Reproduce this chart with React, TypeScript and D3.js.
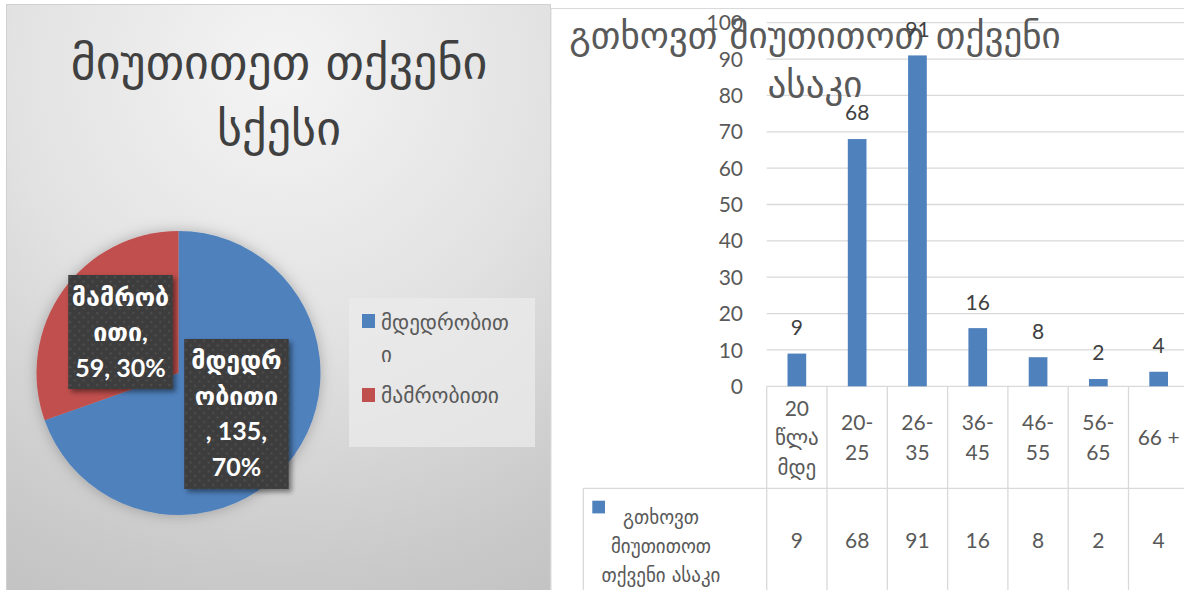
import React from "react";
import * as d3 from "d3";

// ---------- data ----------
const pieTitleLines = ["მიუთითეთ თქვენი", "სქესი"];
const genderNames = ["მდედრობითი", "მამრობითი"];
const genderValues = [135, 59];
const genderColors = ["#4f81bd", "#c0504d"];

const barTitleLines = ["გთხოვთ მიუთითოთ თქვენი", "ასაკი"];
const seriesName = ["გთხოვთ", "მიუთითოთ", "თქვენი ასაკი"];
const ageCategories = ["20 წლა მდე", "20-25", "26-35", "36-45", "46-55", "56-65", "66 +"];
const ageCategoryLines = [["20", "წლა", "მდე"], ["20-", "25"], ["26-", "35"], ["36-", "45"], ["46-", "55"], ["56-", "65"], ["66 +"]];
const ageValues = [9, 68, 91, 16, 8, 2, 4];
const yTicks = [0, 10, 20, 30, 40, 50, 60, 70, 80, 90, 100];

const FONT = "Lato, 'DejaVu Sans', sans-serif";
const GEO = "'DejaVu Sans', sans-serif";

export default function App() {
  // ---------- pie ----------
  const cx = 178.5, cy = 373, r = 142;
  const total = d3.sum(genderValues);
  const pie = d3.pie<number>().sort(null).value((d) => d);
  const arcs = pie(genderValues);
  const arcGen = d3.arc<d3.PieArcDatum<number>>().innerRadius(0).outerRadius(r);
  const pct = genderValues.map((v) => Math.round((v / total) * 100));
  const labelLines = [
    [genderNames[0].slice(0, 5), genderNames[0].slice(5), `, ${genderValues[0]},`, `${pct[0]}%`],
    [genderNames[1].slice(0, 6), genderNames[1].slice(6) + ",", `${genderValues[1]}, ${pct[1]}%`],
  ];

  // ---------- bars ----------
  const plotLeft = 766.7, step = 60.3;
  const plotRight = plotLeft + step * ageCategories.length;
  const xCell = d3.scaleBand<string>().domain(ageCategories).range([plotLeft, plotRight]).padding(0);
  const xBar = d3.scaleBand<string>().domain(ageCategories).range([plotLeft, plotRight]).paddingInner(0.69).paddingOuter(0.345);
  const y = d3.scaleLinear().domain([0, 100]).range([386.3, 22.7]);
  const tableMid = 488.3;

  return (
    <svg width={1184} height={590} style={{ position: "absolute", left: 0, top: 0, display: "block" }}>
      <defs>
        <radialGradient id="bg" gradientUnits="userSpaceOnUse" cx={280} cy={70} r={600}>
          <stop offset="0" stopColor="#f4f4f4" />
          <stop offset="0.45" stopColor="#e2e2e2" />
          <stop offset="0.85" stopColor="#c9c9c9" />
          <stop offset="1" stopColor="#c2c2c2" />
        </radialGradient>
        <pattern id="dots" width="9" height="9" patternUnits="userSpaceOnUse">
          <rect width="9" height="9" fill="#3d3d3d" />
          <circle cx="2" cy="2" r="1.2" fill="#4c4c4c" />
          <circle cx="6.5" cy="6.5" r="1.2" fill="#4c4c4c" />
        </pattern>
        <filter id="pieShadow" x="-20%" y="-20%" width="140%" height="140%">
          <feDropShadow dx="0" dy="0" stdDeviation="7" floodColor="#000" floodOpacity="0.25" />
        </filter>
        <filter id="boxShadow" x="-20%" y="-20%" width="150%" height="150%">
          <feDropShadow dx="3" dy="3" stdDeviation="2.5" floodColor="#000" floodOpacity="0.45" />
        </filter>
      </defs>

      {/* left panel */}
      <rect x={6.5} y={4.5} width={544} height={600} fill="url(#bg)" stroke="#d0d0d0" strokeWidth={1} />
      <text fontFamily={GEO} fontSize={48} fill="#404040" textAnchor="middle">
        {pieTitleLines.map((t, i) => (
          <tspan key={i} x={279} y={78.6 + i * 66}>{t}</tspan>
        ))}
      </text>
      <g transform={`translate(${cx},${cy})`}>
        <g filter="url(#pieShadow)">
          {arcs.map((a, i) => (
            <path key={i} d={arcGen(a) || ""} fill={genderColors[i]} />
          ))}
        </g>
        {arcs.map((a, i) => {
          const [lx, ly] = arcGen.centroid(a);
          const lines = labelLines[i];
          const w = 104.5, h = lines.length * 36 + 6;
          return (
            <g key={i} transform={`translate(${lx - w / 2},${ly - h / 2})`}>
              <rect width={w} height={h} fill="url(#dots)" filter="url(#boxShadow)" />
              <text fontFamily={FONT} fontWeight={700} fontSize={25} fill="#fff" textAnchor="middle">
                {lines.map((t, j) => (
                  <tspan key={j} x={w / 2} y={30.5 + j * 35.5}>{t}</tspan>
                ))}
              </text>
            </g>
          );
        })}
      </g>
      {/* legend */}
      <rect x={349} y={298} width={186} height={149} fill="#ebebeb" fillOpacity={0.75} />
      <rect x={362} y={314} width={13} height={14} fill={genderColors[0]} />
      <text fontFamily={GEO} fontSize={21} fill="#595959">
        <tspan x={381} y={330}>{genderNames[0].slice(0, 9)}</tspan>
        <tspan x={381} y={362}>{genderNames[0].slice(9)}</tspan>
      </text>
      <rect x={362} y={388} width={13} height={14} fill={genderColors[1]} />
      <text fontFamily={GEO} fontSize={21.5} fill="#595959" x={381} y={403}>{genderNames[1]}</text>

      {/* right panel */}
      <rect x={551} y={8.5} width={640} height={600} fill="#fff" stroke="#d9d9d9" strokeWidth={1} />
      {yTicks.map((t) => (
        <line key={t} x1={plotLeft} x2={1184} y1={y(t)} y2={y(t)} stroke="#d9d9d9" strokeWidth={1.3} />
      ))}
      {yTicks.map((t) => (
        <text key={"l" + t} x={743} y={y(t)} dy="0.36em" textAnchor="end" fontFamily={FONT} fontSize={21} fill="#595959">{t}</text>
      ))}
      <text fontFamily={GEO} fontSize={37} fill="#595959" textAnchor="middle">
        {barTitleLines.map((t, i) => (
          <tspan key={i} x={815} y={48.3 + i * 48.4}>{t}</tspan>
        ))}
      </text>
      {ageCategories.map((c, i) => (
        <g key={c}>
          <rect x={xBar(c)} y={y(ageValues[i])} width={xBar.bandwidth()} height={y(0) - y(ageValues[i])} fill="#4f81bd" />
          <text x={(xCell(c) || 0) + step / 2} y={y(ageValues[i]) - 18.6} textAnchor="middle" fontFamily={FONT} fontSize={21} fill="#404040">{ageValues[i]}</text>
        </g>
      ))}
      {/* data table */}
      {ageCategories.map((c, i) => (
        <line key={"v" + c} x1={xCell(c)} x2={xCell(c)} y1={y(0)} y2={600} stroke="#d9d9d9" strokeWidth={1.3} />
      ))}
      <line x1={583.3} x2={1184} y1={tableMid} y2={tableMid} stroke="#d9d9d9" strokeWidth={1.3} />
      <line x1={583.3} x2={583.3} y1={tableMid} y2={600} stroke="#d9d9d9" strokeWidth={1.3} />
      {ageCategories.map((c, i) => {
        const lines = ageCategoryLines[i];
        const sp = 29.5;
        const first = 445 - ((lines.length - 1) * sp) / 2;
        return (
          <text key={"c" + c} fontFamily={FONT} fontSize={21} fill="#595959" textAnchor="middle">
            {lines.map((t, j) => (
              <tspan key={j} x={(xCell(c) || 0) + step / 2} y={first + j * sp}>{t}</tspan>
            ))}
          </text>
        );
      })}
      {ageCategories.map((c, i) => (
        <text key={"t" + c} x={(xCell(c) || 0) + step / 2} y={547.7} textAnchor="middle" fontFamily={FONT} fontSize={21} fill="#595959">{ageValues[i]}</text>
      ))}
      <rect x={592.3} y={500.7} width={12.7} height={12.7} fill="#4f81bd" />
      <text fontFamily={GEO} fontSize={19} fill="#595959" textAnchor="middle">
        {seriesName.map((t, i) => (
          <tspan key={i} x={661} y={524 + i * 29}>{t}</tspan>
        ))}
      </text>
    </svg>
  );
}
